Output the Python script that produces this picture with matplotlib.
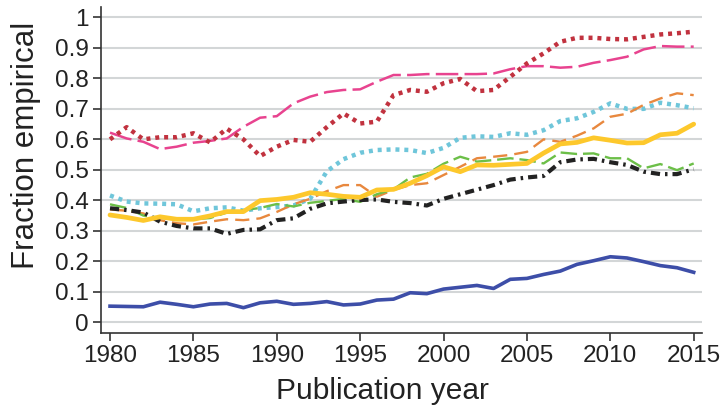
import matplotlib.pyplot as plt
import numpy as np

years = np.arange(1980, 2016)

blue = [0.053, 0.052, 0.051, 0.066, 0.059, 0.051, 0.060, 0.062, 0.048, 0.064,
        0.069, 0.059, 0.062, 0.068, 0.057, 0.060, 0.073, 0.076, 0.097, 0.094,
        0.109, 0.115, 0.121, 0.111, 0.141, 0.144, 0.157, 0.168, 0.190, 0.202,
        0.215, 0.211, 0.199, 0.186, 0.179, 0.164]
crimson = [0.600, 0.640, 0.600, 0.607, 0.607, 0.620, 0.590, 0.635, 0.600, 0.545,
           0.576, 0.598, 0.592, 0.640, 0.685, 0.652, 0.658, 0.745, 0.762, 0.756,
           0.784, 0.798, 0.758, 0.762, 0.805, 0.849, 0.882, 0.920, 0.933, 0.933,
           0.929, 0.928, 0.936, 0.944, 0.948, 0.953]
pink = [0.622, 0.603, 0.592, 0.568, 0.576, 0.589, 0.595, 0.603, 0.641, 0.671,
        0.676, 0.718, 0.740, 0.755, 0.762, 0.764, 0.789, 0.811, 0.811, 0.814,
        0.814, 0.814, 0.814, 0.816, 0.830, 0.840, 0.840, 0.835, 0.838, 0.851,
        0.860, 0.871, 0.895, 0.906, 0.904, 0.904]
orange = [0.370, 0.366, 0.357, 0.335, 0.325, 0.321, 0.330, 0.338, 0.335, 0.341,
          0.362, 0.387, 0.405, 0.430, 0.450, 0.450, 0.412, 0.434, 0.450, 0.456,
          0.483, 0.510, 0.538, 0.543, 0.549, 0.559, 0.600, 0.592, 0.612, 0.636,
          0.674, 0.684, 0.713, 0.734, 0.751, 0.745]
cyan = [0.416, 0.396, 0.390, 0.389, 0.387, 0.364, 0.374, 0.377, 0.366, 0.374,
        0.378, 0.383, 0.405, 0.495, 0.535, 0.556, 0.565, 0.567, 0.565, 0.555,
        0.572, 0.605, 0.610, 0.608, 0.620, 0.615, 0.630, 0.660, 0.669, 0.690,
        0.718, 0.700, 0.700, 0.720, 0.712, 0.702]
green = [0.387, 0.375, 0.350, 0.343, 0.338, 0.338, 0.342, 0.360, 0.368, 0.375,
         0.388, 0.380, 0.392, 0.398, 0.405, 0.395, 0.420, 0.436, 0.475, 0.487,
         0.520, 0.543, 0.527, 0.532, 0.538, 0.532, 0.521, 0.557, 0.552, 0.554,
         0.538, 0.538, 0.505, 0.519, 0.499, 0.521]
yellow = [0.352, 0.344, 0.334, 0.346, 0.338, 0.338, 0.349, 0.363, 0.363, 0.399,
          0.403, 0.410, 0.425, 0.420, 0.413, 0.410, 0.434, 0.436, 0.456, 0.481,
          0.510, 0.494, 0.516, 0.515, 0.518, 0.521, 0.555, 0.585, 0.590, 0.605,
          0.597, 0.588, 0.589, 0.615, 0.620, 0.650]
black = [0.374, 0.368, 0.360, 0.330, 0.316, 0.308, 0.308, 0.290, 0.303, 0.305,
         0.335, 0.341, 0.372, 0.390, 0.396, 0.401, 0.403, 0.395, 0.391, 0.383,
         0.405, 0.420, 0.435, 0.450, 0.468, 0.475, 0.480, 0.525, 0.534, 0.536,
         0.525, 0.516, 0.494, 0.486, 0.486, 0.502]

plt.rcParams['font.family'] = ['Liberation Sans', 'DejaVu Sans']

fig = plt.figure(figsize=(7.23, 4.12), dpi=100)
ax = fig.add_axes([0.1397, 0.1925, 0.8313, 0.7905])

# lines, roughly back to front
ax.plot(years, pink, color='#e8438f', lw=1.8, ls=(0, (9, 2.5)), zorder=3)
ax.plot(years, crimson, color='#c1323f', lw=3.2, ls=(0, (0.9, 1.1)), zorder=4)
ax.plot(years, cyan, color='#6fc6da', lw=3.2, ls=(0, (0.9, 1.1)), zorder=3)
ax.plot(years, orange, color='#e8883e', lw=1.7, ls=(0, (6, 3)), zorder=3)
ax.plot(years, green, color='#6cbf48', lw=1.7, ls=(0, (7, 2.5)), zorder=3)
ax.plot(years, black, color='#222222', lw=3.0, ls=(0, (2.2, 1.2, 0.6, 1.2)), zorder=4)
ax.plot(years, yellow, color='#fdc82c', lw=3.4, solid_capstyle='round', zorder=5)
ax.plot(years, blue, color='#3d4ea8', lw=2.6, zorder=5)

ax.set_xlim(1979.46, 2015.5)
ax.set_ylim(-0.034, 1.034)
ax.set_xticks(np.arange(1980, 2016, 5))
ax.set_yticks(np.arange(0, 1.01, 0.1))
ax.set_yticklabels(['0', '0.1', '0.2', '0.3', '0.4', '0.5', '0.6', '0.7', '0.8', '0.9', '1'])

ax.grid(axis='y', color='#d3d6d7', lw=1.5)
ax.set_axisbelow(True)
for s in ['top', 'right']:
    ax.spines[s].set_visible(False)
for s in ['left', 'bottom']:
    ax.spines[s].set_color('#333333')
    ax.spines[s].set_linewidth(1.2)

ax.tick_params(axis='both', labelsize=17.5, colors='#222222', length=6, width=1.1, pad=3)
ax.set_xlabel('Publication year', fontsize=21.5, color='#222222')
ax.set_ylabel('Fraction empirical', fontsize=22.5, color='#222222')
ax.xaxis.set_label_coords(0.468, -0.135)
ax.yaxis.set_label_coords(-0.10, 0.574)

fig.savefig('out.png', dpi=100)
